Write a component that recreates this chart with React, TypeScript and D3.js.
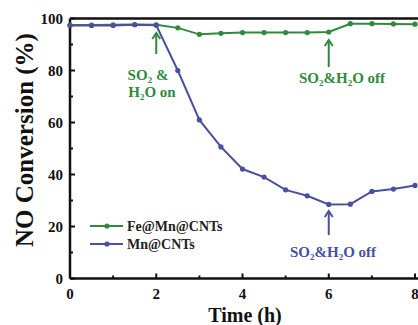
import React from "react";
import * as d3 from "d3";

const timeH = [0, 0.5, 1, 1.5, 2, 2.5, 3, 3.5, 4, 4.5, 5, 5.5, 6, 6.5, 7, 7.5, 8];
const feMnCNTs = [97.5, 97.5, 97.6, 97.7, 97.6, 96.4, 93.9, 94.3, 94.6, 94.6, 94.6, 94.6, 94.8, 98.0, 98.0, 97.9, 97.8];
const mnCNTs = [97.3, 97.3, 97.3, 97.6, 97.4, 80.0, 61.0, 50.6, 42.1, 39.0, 34.1, 31.8, 28.5, 28.6, 33.5, 34.4, 35.8];
const xTicks = [0, 2, 4, 6, 8];
const xMinor = [1, 3, 5, 7];
const yTicks = [0, 20, 40, 60, 80, 100];
const yMinor = [10, 30, 50, 70, 90];
const seriesNames = ["Fe@Mn@CNTs", "Mn@CNTs"];

const GREEN = "#2f8a3e";
const BLUE = "#4a4f9f";
const FONT = "'Liberation Serif', 'Times New Roman', serif";

export default function App() {
  const W = 418, H = 325;
  const x = d3.scaleLinear().domain([0, 8]).range([70, 415]);
  const y = d3.scaleLinear().domain([0, 100]).range([278.5, 18.5]);
  const line = d3.line<number>().x((_, i) => x(timeH[i])).y((d) => y(d));

  const series = [
    { name: seriesNames[0], data: feMnCNTs, color: GREEN },
    { name: seriesNames[1], data: mnCNTs, color: BLUE },
  ];

  const arrow = (cx: number, y1: number, y2: number, color: string) => (
    <g stroke={color} strokeWidth={2} fill="none">
      <line x1={cx} y1={y1} x2={cx} y2={y2} />
      <polyline points={`${cx - 4},${y1 + 6} ${cx},${y1} ${cx + 4},${y1 + 6}`} />
    </g>
  );

  const sub = (t: string) => (
    <tspan fontSize="9" dy="2.5">{t}</tspan>
  );

  return (
    <svg width={W} height={H} style={{ position: "absolute", left: 0, top: 0, background: "#fff" }} fontFamily={FONT} fontWeight="bold">
      {/* frame */}
      <g stroke="#111" strokeWidth={2.5} fill="none">
        <line x1={x(0)} y1={y(0)} x2={420} y2={y(0)} />
        <line x1={x(0)} y1={y(0)} x2={x(0)} y2={y(100)} />
        <line x1={x(0)} y1={y(100)} x2={420} y2={y(100)} />
      </g>
      {/* ticks */}
      <g stroke="#111" strokeWidth={2}>
        {xTicks.map((t) => <line key={"xt" + t} x1={x(t)} x2={x(t)} y1={y(0)} y2={y(0) - 5} />)}
        {xMinor.map((t) => <line key={"xm" + t} x1={x(t)} x2={x(t)} y1={y(0)} y2={y(0) - 3} />)}
        {yTicks.map((t) => <line key={"yt" + t} x1={x(0)} x2={x(0) + 5} y1={y(t)} y2={y(t)} />)}
        {yMinor.map((t) => <line key={"ym" + t} x1={x(0)} x2={x(0) + 3} y1={y(t)} y2={y(t)} />)}
      </g>
      <g fontSize="15" fill="#111">
        {xTicks.map((t) => (
          <text key={"xl" + t} x={x(t)} y={299} textAnchor="middle">{t}</text>
        ))}
        {yTicks.map((t) => (
          <text key={"yl" + t} x={63} y={y(t) + 5} textAnchor="end">{t}</text>
        ))}
      </g>
      <text x={245} y={322} textAnchor="middle" fontSize="20" fill="#111">Time (h)</text>
      <text transform={`translate(33,140) rotate(-90)`} textAnchor="middle" fontSize="25" fill="#111">NO Conversion (%)</text>

      {/* series */}
      {series.map((s) => (
        <g key={s.name}>
          <path d={line(s.data) || ""} fill="none" stroke={s.color} strokeWidth={2} />
          {s.data.map((v, i) => (
            <circle key={i} cx={x(timeH[i])} cy={y(v)} r={2.6} fill={s.color} />
          ))}
        </g>
      ))}

      {/* annotations */}
      {arrow(x(2), 33, 54, GREEN)}
      <text x={148} y={80} textAnchor="middle" fontSize="15" fill={GREEN}>SO{sub("2")}<tspan dy="-2.5"> &amp;</tspan></text>
      <text x={152} y={97} textAnchor="middle" fontSize="15" fill={GREEN}>H{sub("2")}<tspan dy="-2.5">O on</tspan></text>

      {arrow(x(6), 40, 67, GREEN)}
      <text x={342} y={83} textAnchor="middle" fontSize="15" fill={GREEN}>SO{sub("2")}<tspan dy="-2.5">&amp;H</tspan>{sub("2")}<tspan dy="-2.5">O off</tspan></text>

      {arrow(x(6), 211, 235, BLUE)}
      <text x={333} y={257} textAnchor="middle" fontSize="15" fill={BLUE}>SO{sub("2")}<tspan dy="-2.5">&amp;H</tspan>{sub("2")}<tspan dy="-2.5">O off</tspan></text>

      {/* legend */}
      {series.map((s, i) => (
        <g key={"lg" + s.name}>
          <line x1={90} x2={123} y1={226 + i * 18} y2={226 + i * 18} stroke={s.color} strokeWidth={2} />
          <circle cx={107} cy={226 + i * 18} r={2.6} fill={s.color} />
          <text x={127} y={231 + i * 18} fontSize="14" fill="#222">{s.name}</text>
        </g>
      ))}
    </svg>
  );
}
